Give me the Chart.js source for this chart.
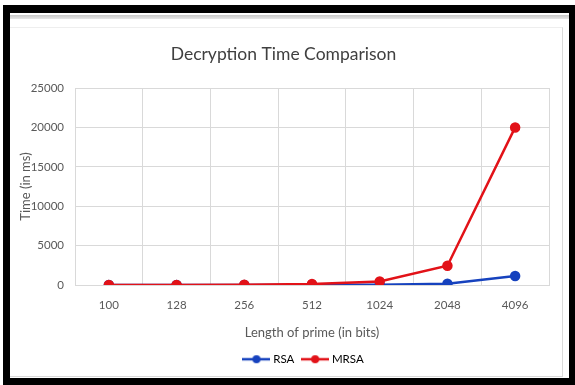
<!DOCTYPE html>
<html>
<head>
<meta charset="utf-8">
<script src="https://cdn.jsdelivr.net/npm/chart.js@4/dist/chart.umd.min.js"></script>
<style>
  html, body { margin: 0; padding: 0; background: #fff; width: 575px; height: 385px; overflow: hidden; }
  #frame { position: absolute; left: 3px; top: 5px; width: 572px; height: 380px; background: #000; }
  #inner { position: absolute; left: 10px; top: 13px; width: 559px; height: 365px; background: #fff; }
  #strip { position: absolute; left: 10px; top: 15px; width: 559px; height: 4px;
           background: linear-gradient(#c8c8c8, #e6e6e6); }
  #panel { position: absolute; left: 10px; top: 27px; width: 552px; height: 348px;
           border-right: 1px solid #d9d9d9; border-top: 1px solid #eeeeee; border-bottom: 1px solid #d9d9d9; background: #fff; }
  #wrap { position: absolute; left: 10px; top: 27px; width: 552px; height: 348px; }
</style>
</head>
<body>
<div id="frame"></div>
<div id="inner"></div>
<div id="strip"></div>
<div id="panel"></div>
<div id="wrap"><canvas id="c" width="552" height="348"></canvas></div>
<script>
// Decryption time (ms) for each prime length
const primeLengths = ['100', '128', '256', '512', '1024', '2048', '4096'];
const rsaTimes  = [5, 10, 20, 40, 60, 180, 1150];
const mrsaTimes = [10, 20, 40, 130, 450, 2450, 20000];
const yTicks = [0, 5000, 10000, 15000, 20000, 25000];

const FONT = "Lato, 'Open Sans', sans-serif";
const RED = 'rgb(226, 18, 24)';
const BLUE = 'rgb(22, 66, 190)';

// small line-with-dot marker used in the legend (a bit wider than its box)
function legendMarker(color) {
  const m = document.createElement('canvas');
  m.width = 28; m.height = 10;
  const g = m.getContext('2d');
  g.strokeStyle = color; g.lineWidth = 2.5;
  g.beginPath(); g.moveTo(0, 5); g.lineTo(28, 5); g.stroke();
  g.fillStyle = color;
  g.beginPath(); g.arc(14, 5, 4, 0, Math.PI * 2); g.fill();
  return m;
}

// nudge the legend row to the right of the plot's centre line
const legendShift = {
  id: 'legendShift',
  afterLayout(chart) {
    const lg = chart.legend;
    if (lg) { lg.left += 24; lg.right += 24; }
  }
};

new Chart(document.getElementById('c'), {
  type: 'line',
  data: {
    labels: primeLengths,
    datasets: [
      { label: 'RSA', data: rsaTimes, borderColor: BLUE, backgroundColor: BLUE, order: 1,
        borderWidth: 2.5, pointRadius: 4, pointHoverRadius: 4, tension: 0 },
      { label: 'MRSA', data: mrsaTimes, borderColor: RED, backgroundColor: RED, order: 0,
        borderWidth: 2.5, pointRadius: 4, pointHoverRadius: 4, tension: 0 }
    ]
  },
  plugins: [legendShift],
  options: {
    responsive: false,
    animation: false,
    layout: { padding: { left: 8, right: 13, top: 8, bottom: 0 } },
    plugins: {
      title: {
        display: true, text: 'Decryption Time Comparison', color: '#404040',
        font: { family: FONT, size: 17.5, weight: 'normal' }, padding: { top: 9, bottom: 23 }
      },
      legend: {
        position: 'bottom',
        labels: {
          color: '#595959', font: { family: FONT, size: 11.5 },
          usePointStyle: true, pointStyleWidth: 22, boxHeight: 10, padding: 4,
          generateLabels(chart) {
            return chart.data.datasets.map((ds, i) => ({
              text: ds.label + '  ', fillStyle: ds.borderColor, strokeStyle: ds.borderColor,
              pointStyle: legendMarker(ds.borderColor), lineWidth: 0, datasetIndex: i, hidden: false
            }));
          }
        }
      },
      tooltip: { enabled: false }
    },
    scales: {
      x: {
        offset: true,
        grid: { offset: true, color: '#d9d9d9', drawTicks: false },
        border: { color: '#d9d9d9' },
        ticks: { color: '#595959', font: { family: FONT, size: 11.5 }, padding: 13 },
        title: { display: true, text: 'Length of prime (in bits)', color: '#595959',
                 font: { family: FONT, size: 13 }, padding: { top: 0, bottom: 9 } }
      },
      y: {
        min: 0, max: 25000,
        afterBuildTicks(axis) { axis.ticks = yTicks.map(v => ({ value: v })); },
        afterFit(axis) { axis.width = 57; },
        grid: { color: '#d9d9d9', drawTicks: false },
        border: { color: '#d9d9d9' },
        ticks: { color: '#595959', font: { family: FONT, size: 11.5 }, padding: 11,
                 callback: v => String(v) },
        title: { display: true, text: 'Time (in ms)', color: '#595959',
                 font: { family: FONT, size: 13 }, padding: { top: 0, bottom: 0 } }
      }
    }
  }
});
</script>
</body>
</html>
